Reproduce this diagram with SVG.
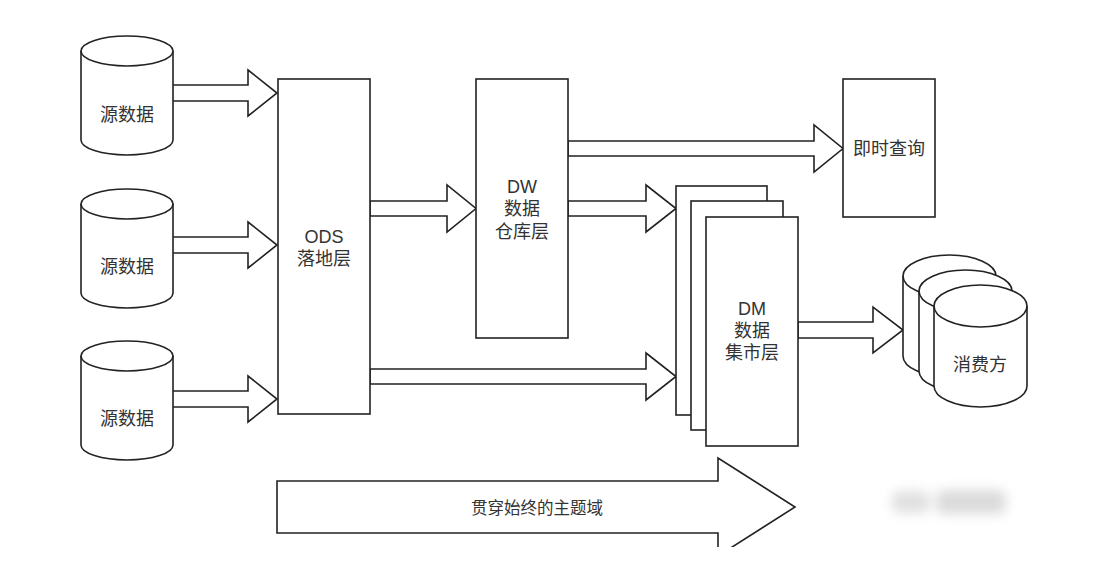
<svg xmlns="http://www.w3.org/2000/svg" width="1097" height="576" viewBox="0 0 1097 576">
  <defs>
    <style>
      .shape { fill: #ffffff; stroke: #222222; stroke-width: 1.6; stroke-linejoin: miter; }
      .line { fill: none; stroke: #222222; stroke-width: 1.6; }
      .arrow { fill: #ffffff; stroke: #222222; stroke-width: 1.6; stroke-linejoin: miter; }
      .label { font-family: "Liberation Sans", "Noto Sans CJK SC", sans-serif; font-size: 18px; fill: #333333; text-anchor: middle; dominant-baseline: central; }
      .big { font-size: 16.5px; }
    </style>
    <g id="cylSrc">
      <path class="shape" d="M0,15 A46,15 0 0 1 92,15 V104 A46,15 0 0 1 0,104 Z"/>
      <path class="line" d="M0,15 A46,15 0 0 0 92,15"/>
    </g>
    <g id="cylDst">
      <path class="shape" d="M0,21 A46.5,21 0 0 1 93,21 V101 A46.5,21 0 0 1 0,101 Z"/>
      <path class="line" d="M0,21 A46.5,21 0 0 0 93,21"/>
    </g>
    <clipPath id="clipBottom">
      <rect x="0" y="0" width="1097" height="547"/>
    </clipPath>
    <filter id="blur" x="-50%" y="-50%" width="200%" height="200%">
      <feGaussianBlur stdDeviation="6"/>
    </filter>
  </defs>

  <rect x="0" y="0" width="1097" height="576" fill="#ffffff"/>

  <!-- blurred watermark -->
  <g id="watermark" filter="url(#blur)" opacity="0.75">
    <rect x="892" y="491" width="38" height="22" rx="8" fill="#d6d6d6"/>
    <rect x="936" y="490" width="70" height="24" rx="8" fill="#cfcfcf"/>
  </g>

  <g id="connectors">
    <polygon class="arrow" points="172,85 248,85 248,70 277,93 248,116 248,101 172,101"/>
    <polygon class="arrow" points="172,237 248,237 248,222 277,245 248,268 248,253 172,253"/>
    <polygon class="arrow" points="172,391 248,391 248,376 277,399 248,422 248,407 172,407"/>
    <polygon class="arrow" points="370,201 447,201 447,185 476,208.5 447,232 447,216 370,216"/>
    <polygon class="arrow" points="568,141 814,141 814,125 843,148.5 814,172 814,156 568,156"/>
    <polygon class="arrow" points="568,201 646,201 646,185 676,208.5 646,232 646,216 568,216"/>
    <polygon class="arrow" points="370,369 646,369 646,353 676,376.5 646,400 646,384 370,384"/>
    <polygon class="arrow" points="798,322 873,322 873,307 903,330 873,353 873,338 798,338"/>
  </g>

  <g id="src1">
    <use href="#cylSrc" transform="translate(81,36)"/>
    <text class="label" x="127" y="115">源数据</text>
  </g>
  <g id="src2">
    <use href="#cylSrc" transform="translate(81,189)"/>
    <text class="label" x="127" y="267">源数据</text>
  </g>
  <g id="src3">
    <use href="#cylSrc" transform="translate(81,341)"/>
    <text class="label" x="127" y="419">源数据</text>
  </g>

  <g id="ods">
    <rect class="shape" x="278" y="79" width="92" height="335"/>
    <text class="label" x="324" y="237">ODS</text>
    <text class="label" x="324" y="259">落地层</text>
  </g>

  <g id="dw">
    <rect class="shape" x="476" y="79" width="92" height="259"/>
    <text class="label" x="522" y="187">DW</text>
    <text class="label" x="522" y="209">数据</text>
    <text class="label" x="522" y="232">仓库层</text>
  </g>

  <g id="query">
    <rect class="shape" x="843" y="79" width="92" height="138"/>
    <text class="label" x="889" y="149">即时查询</text>
  </g>

  <g id="dm">
    <rect class="shape" x="676" y="186" width="91" height="229"/>
    <rect class="shape" x="691" y="201" width="92" height="229"/>
    <rect class="shape" x="706" y="217" width="92" height="229"/>
    <text class="label" x="752" y="309">DM</text>
    <text class="label" x="752" y="331">数据</text>
    <text class="label" x="752" y="353">集市层</text>
  </g>

  <g id="consumer">
    <use href="#cylDst" transform="translate(903,255)"/>
    <use href="#cylDst" transform="translate(919,270)"/>
    <use href="#cylDst" transform="translate(934,285)"/>
    <text class="label" x="980" y="365">消费方</text>
  </g>

  <g id="theme">
    <polygon class="arrow" clip-path="url(#clipBottom)" points="277,481 718,481 718,458 795,507 718,556 718,533 277,533"/>
    <text class="label big" x="537" y="508">贯穿始终的主题域</text>
  </g>
</svg>
